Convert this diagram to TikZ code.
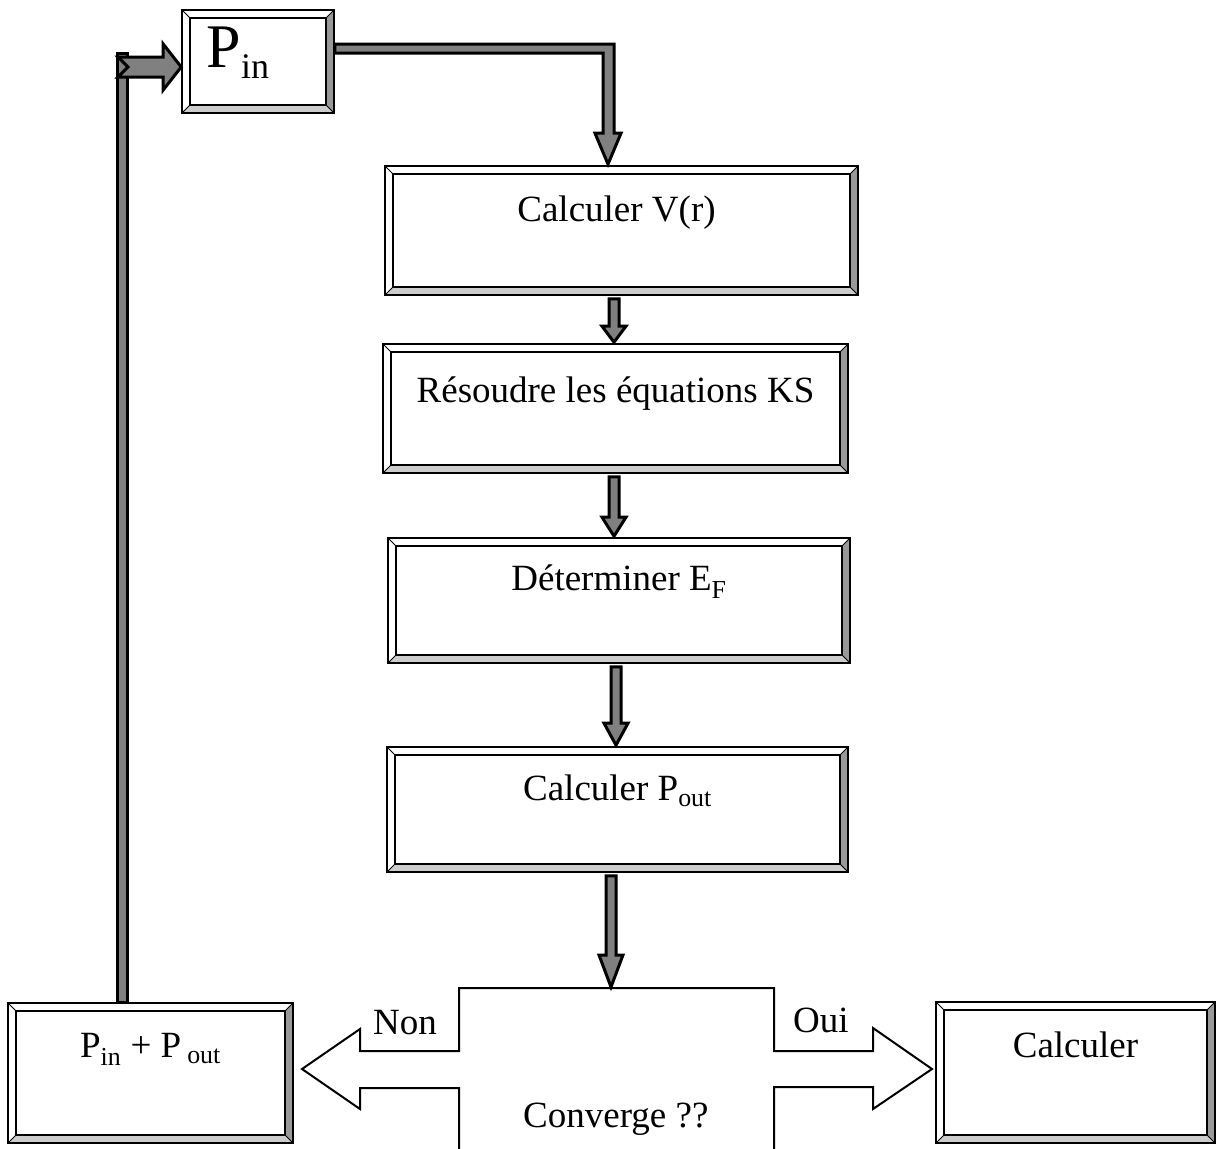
\documentclass[tikz,border=0pt]{standalone}
\usepackage{fontspec}
\setmainfont{Liberation Serif}
\usetikzlibrary{calc}
\definecolor{bevR}{HTML}{999999}
\definecolor{bevB}{HTML}{CCCCCC}
\definecolor{barG}{HTML}{808080}
\newcommand\mylbl{\fontsize{37}{40}\selectfont}
\newcommand\mybig{\fontsize{62}{66}\selectfont}
\newcommand\vblk[4]{%
  \draw[blk] let \p1=(#1 -| #3), \p2=(#2 -| #3) in
    (\x1-5pt,\y1-3pt) -- (\x1+5pt,\y1-3pt) -- (\x1+5pt,\y2+#4) -- (\x1+12pt,\y2+#4)
    -- (\x1,\y2+1pt) -- (\x1-12pt,\y2+#4) -- (\x1-5pt,\y2+#4) -- cycle;}
\begin{document}
\begin{tikzpicture}[x=1pt,y=-1pt,
  bevbox/.style={draw=black, line width=1.6pt, fill=white, inner sep=0pt,
    font=\mylbl, text height=26pt,
    path picture={
      \coordinate (SW) at (path picture bounding box.south west);
      \coordinate (SE) at (path picture bounding box.south east);
      \coordinate (NE) at (path picture bounding box.north east);
      \coordinate (NW) at (path picture bounding box.north west);
      \fill[bevR] (NE) -- (SE) -- ([shift={(-8pt,8pt)}]SE) -- ([shift={(-8pt,-8pt)}]NE) -- cycle;
      \fill[bevB] (SW) -- (SE) -- ([shift={(-8pt,8pt)}]SE) -- ([shift={(8pt,8pt)}]SW) -- cycle;
      \draw[line width=1.3pt] ([shift={(8pt,8pt)}]SW) rectangle ([shift={(-8pt,-8pt)}]NE);
      \draw[line width=1pt] (SW) -- ([shift={(8pt,8pt)}]SW) (SE) -- ([shift={(-8pt,8pt)}]SE)
        (NE) -- ([shift={(-8pt,-8pt)}]NE) (NW) -- ([shift={(8pt,-8pt)}]NW);
    }},
  blk/.style={draw=black, line width=3pt, fill=barG, line join=miter},
  conv/.style={draw=black, line width=2pt, fill=white},
  lab/.style={font=\mylbl, inner sep=0pt}]
\path[use as bounding box] (0,0) rectangle (1224,1149);
\clip (0,0) rectangle (1224,1149);

% boxes
\node[bevbox, minimum width=152pt, minimum height=103pt, text height=42pt, text depth=30pt, font=\mybig]
  (pin) at (258,61.5) {P\raisebox{-11pt}{\fontsize{36}{38}\selectfont in}\rule{40pt}{0pt}};
\node[bevbox, minimum width=473pt, minimum height=129pt, text depth=45pt] (vr) at (621.5,230.5) {Calculer V(r)\rule{10pt}{0pt}};
\node[bevbox, minimum width=465pt, minimum height=129pt, text depth=39pt] (ks) at (615.5,408.5) {Résoudre les équations KS};
\node[bevbox, minimum width=462pt, minimum height=125pt, text depth=47pt] (ef) at (619,600.5) {Déterminer E\textsubscript{F}};
\node[bevbox, minimum width=461pt, minimum height=125pt, text depth=45pt] (po) at (617.5,809.5) {Calculer P\textsubscript{out}};
\node[bevbox, minimum width=285pt, minimum height=140pt, text depth=58pt] (pp) at (150.5,1073) {P\textsubscript{in} + P\textsubscript{\hspace{6pt}out}};
\node[bevbox, minimum width=279pt, minimum height=141pt, text depth=57pt] (ca) at (1075.5,1072.5) {Calculer};

% decision shape
\draw[conv] (459,1160) -- (459,1088) -- (360,1088) -- (360,1109) -- (302,1069) -- (360,1029)
  -- (360,1051) -- (459,1051) -- (459,988) -- (774,988) -- (774,1051) -- (873,1051)
  -- (873,1028) -- (932,1069) -- (873,1109) -- (873,1087) -- (774,1087) -- (774,1160);
\coordinate (cvtop) at (611,988);
\node[lab, anchor=base west] (cv) at (523,1127) {Converge ??};
\node[lab, anchor=base west] (non) at (373,1034) {Non};
\node[lab, anchor=base west] (oui) at (793,1032) {Oui};

% x positions of vertical arrows
\coordinate (xa) at (614,0);
\coordinate (xb) at (614,0);
\coordinate (xc) at (616,0);
\coordinate (xd) at (611,0);
\coordinate (xt) at (608,0);
\coordinate (xf) at (122,0);

\vblk{vr.south}{ks.north}{xa}{17pt}
\vblk{ks.south}{ef.north}{xb}{20pt}
\vblk{po.south}{cvtop}{xd}{33pt}
\vblk{ef.south}{po.north}{xc}{23pt}

% top connector Pin -> V(r)
\draw[blk] let \p1=(pin.north east), \p3=(vr.north -| xt) in
  (\x1,\y1-35pt) -- (\x3+6pt,\y1-35pt) -- (\x3+6pt,\y3+32pt) -- (\x3+13pt,\y3+32pt)
  -- (\x3,\y3+1pt) -- (\x3-13pt,\y3+32pt) -- (\x3-5pt,\y3+32pt) -- (\x3-5pt,\y1-44pt)
  -- (\x1,\y1-44pt) -- cycle;

% feedback Pin+Pout -> Pin
\draw[blk] let \p1=(pp.north -| xf), \p2=(pin.west) in
  (\x1-5pt,\y1) rectangle (\x1+5pt,\y2+8.5pt);
\draw[blk] let \p1=(pp.north -| xf), \p2=(pin.west) in
  (\x1-4pt,\y2-5.5pt+10pt) -- (\x2-18pt,\y2-5.5pt+10pt) -- (\x2-18pt,\y2-5.5pt+23pt)
  -- (\x2,\y2-5.5pt) -- (\x2-18pt,\y2-5.5pt-23pt) -- (\x2-18pt,\y2-5.5pt-10pt)
  -- (\x1-4pt,\y2-5.5pt-10pt) -- (\x1+6pt,\y2-5.5pt) -- cycle;
\end{tikzpicture}
\end{document}
